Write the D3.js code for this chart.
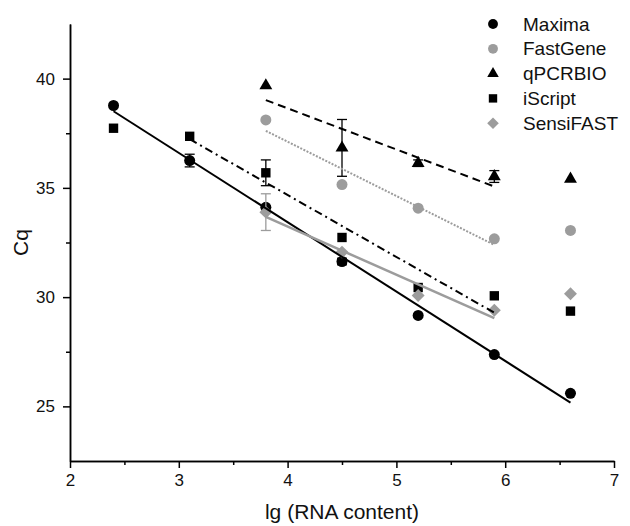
<!DOCTYPE html>
<html>
<head>
<meta charset="utf-8">
<script src="https://cdn.jsdelivr.net/npm/d3@7"></script>
<style>
  body { margin: 0; background: #fff; }
  svg { font-family: Arial, "Liberation Sans", sans-serif; }
</style>
</head>
<body>
<svg id="chart" width="630" height="526"></svg>
<script>
// lg of RNA content for each dilution step
const xs = [2.4, 3.1, 3.8, 4.5, 5.2, 5.9, 6.6]

// Cq values per kit (null = no point)
const maxima = [38.77, 36.25, 34.11, 31.63, 29.16, 27.37, 25.6]
const maximaErr = [0, 0.29, 0, 0.15, 0, 0, 0]
const fastGene = [null, null, 38.11, 35.15, 34.07, 32.67, 33.05]
const fastGeneErr = [0, 0, 0, 0, 0, 0, 0]
const qpcrbio = [null, null, 39.68, 36.83, 36.13, 35.52, 35.41]
const qpcrbioErr = [0, 0, 0, 1.3, 0.15, 0.27, 0]
const iscript = [37.73, 37.36, 35.69, 32.73, 30.44, 30.06, 29.36]
const iscriptErr = [0, 0, 0.59, 0, 0, 0, 0]
const sensiFast = [null, null, 33.89, 32.06, 30.07, 29.4, 30.15]
const sensiFastErr = [0, 0, 0.84, 0, 0, 0, 0]

// x range used for each linear fit
const fitRanges = {
    Maxima: [2.4, 6.6],
    FastGene: [3.8, 5.9],
    qPCRBIO: [3.8, 5.9],
    iScript: [3.1, 5.9],
    SensiFAST: [3.8, 5.9],
}

const xTicks = [2, 3, 4, 5, 6, 7]
const xMinor = [2.5, 3.5, 4.5, 5.5, 6.5]
const yTicks = [25, 30, 35, 40]
const yMinor = [27.5, 32.5, 37.5]

const black = '#000'
const grey = '#9c9c9c'

const series = [
    { name: 'Maxima', values: maxima, err: maximaErr, color: black, symbol: 'circle', dash: null, width: 2 },
    { name: 'FastGene', values: fastGene, err: fastGeneErr, color: grey, symbol: 'circle', dash: '2,1.5', width: 2 },
    { name: 'qPCRBIO', values: qpcrbio, err: qpcrbioErr, color: black, symbol: 'triangle', dash: '8,5', width: 2 },
    { name: 'iScript', values: iscript, err: iscriptErr, color: black, symbol: 'square', dash: '8,4,2,4', width: 2 },
    { name: 'SensiFAST', values: sensiFast, err: sensiFastErr, color: grey, symbol: 'diamond', dash: null, width: 2.5 },
]

const svg = d3.select('#chart')
const margin = { top: 24, right: 16, bottom: 65, left: 70 }
const width = 630
const height = 526

const xScale = d3.scaleLinear().domain([2, 7]).range([margin.left, width - margin.right])
const yScale = d3.scaleLinear().domain([22.5, 42.5]).range([height - margin.bottom, margin.top])

//axes
const styleAxis = (g) => {
    g.select('.domain').attr('stroke', black).attr('stroke-width', 1.5)
    g.selectAll('.tick line').attr('stroke', black).attr('stroke-width', 1.5)
    g.selectAll('text').style('font-size', '17px').attr('fill', '#111')
}

svg.append('g')
    .attr('transform', `translate(0, ${yScale(22.5)})`)
    .call(d3.axisBottom(xScale).tickValues(xMinor).tickSize(4).tickFormat('').tickSizeOuter(0))
    .call(styleAxis)
svg.append('g')
    .attr('transform', `translate(0, ${yScale(22.5)})`)
    .call(d3.axisBottom(xScale).tickValues(xTicks).tickSize(7).tickPadding(6).tickSizeOuter(0).tickFormat(d3.format('d')))
    .call(styleAxis)

svg.append('g')
    .attr('transform', `translate(${xScale(2)}, 0)`)
    .call(d3.axisLeft(yScale).tickValues(yMinor).tickSize(4).tickFormat('').tickSizeOuter(0))
    .call(styleAxis)
svg.append('g')
    .attr('transform', `translate(${xScale(2)}, 0)`)
    .call(d3.axisLeft(yScale).tickValues(yTicks).tickSize(7).tickPadding(8).tickSizeOuter(0))
    .call(styleAxis)

//axis titles
svg.append('text')
    .attr('x', (xScale(2) + xScale(7)) / 2)
    .attr('y', 519)
    .attr('text-anchor', 'middle')
    .style('font-size', '21px')
    .attr('fill', '#111')
    .text('lg (RNA content)')

svg.append('text')
    .attr('transform', `translate(28, ${(yScale(22.5) + yScale(42.5)) / 2}) rotate(-90)`)
    .attr('text-anchor', 'middle')
    .style('font-size', '21px')
    .attr('fill', '#111')
    .text('Cq')

// marker path generator, diamond is a square turned 45 degrees
const symbolPath = (type, k = 1) => {
    if (type === 'circle') return d3.symbol(d3.symbolCircle, 95 * k)()
    if (type === 'triangle') return d3.symbol(d3.symbolTriangle, 72 * k)()
    if (type === 'square') return d3.symbol(d3.symbolSquare, 88 * k)()
    return d3.symbol(d3.symbolSquare, 84 * k)()
}
const symbolRotate = (type) => (type === 'diamond' ? ' rotate(45)' : '')

// least squares fit over the given x range
const fitLine = (values, range) => {
    const pts = xs
        .map((x, i) => [x, values[i]])
        .filter((p) => p[1] != null && p[0] >= range[0] && p[0] <= range[1])
    const mx = d3.mean(pts, (p) => p[0])
    const my = d3.mean(pts, (p) => p[1])
    const slope = d3.sum(pts, (p) => (p[0] - mx) * (p[1] - my)) / d3.sum(pts, (p) => (p[0] - mx) ** 2)
    return range.map((x) => [x, my + slope * (x - mx)])
}

const line = d3.line().x((d) => xScale(d[0])).y((d) => yScale(d[1]))

series.forEach((s) => {
    const pts = xs.map((x, i) => ({ x, y: s.values[i], e: s.err[i] })).filter((d) => d.y != null)

    //error bars
    const eb = svg.append('g').attr('stroke', s.color).attr('stroke-width', 1.3)
    pts.filter((d) => d.e > 0).forEach((d) => {
        const cx = xScale(d.x)
        eb.append('line').attr('x1', cx).attr('x2', cx).attr('y1', yScale(d.y - d.e)).attr('y2', yScale(d.y + d.e))
        eb.append('line').attr('x1', cx - 5).attr('x2', cx + 5).attr('y1', yScale(d.y - d.e)).attr('y2', yScale(d.y - d.e))
        eb.append('line').attr('x1', cx - 5).attr('x2', cx + 5).attr('y1', yScale(d.y + d.e)).attr('y2', yScale(d.y + d.e))
    })

    //markers
    svg.append('g')
        .selectAll('path')
        .data(pts)
        .enter()
        .append('path')
        .attr('d', symbolPath(s.symbol))
        .attr('transform', (d) => `translate(${xScale(d.x)}, ${yScale(d.y)})${symbolRotate(s.symbol)}`)
        .attr('fill', s.color)
})

//fit lines on top
series.forEach((s) => {
    svg.append('path')
        .datum(fitLine(s.values, fitRanges[s.name]))
        .attr('fill', 'none')
        .attr('stroke', s.color)
        .attr('stroke-width', s.width)
        .attr('stroke-dasharray', s.dash)
        .attr('d', line)
})

//legend
const legend = svg.append('g')
series.forEach((s, i) => {
    const y = 24 + i * 24.8
    legend.append('path')
        .attr('d', symbolPath(s.symbol, 0.8))
        .attr('transform', `translate(493, ${y})${symbolRotate(s.symbol)}`)
        .attr('fill', s.color)
    legend.append('text')
        .attr('x', 523)
        .attr('y', y)
        .attr('dy', '0.35em')
        .style('font-size', '19px')
        .attr('fill', '#111')
        .text(s.name)
})
</script>
</body>
</html>
